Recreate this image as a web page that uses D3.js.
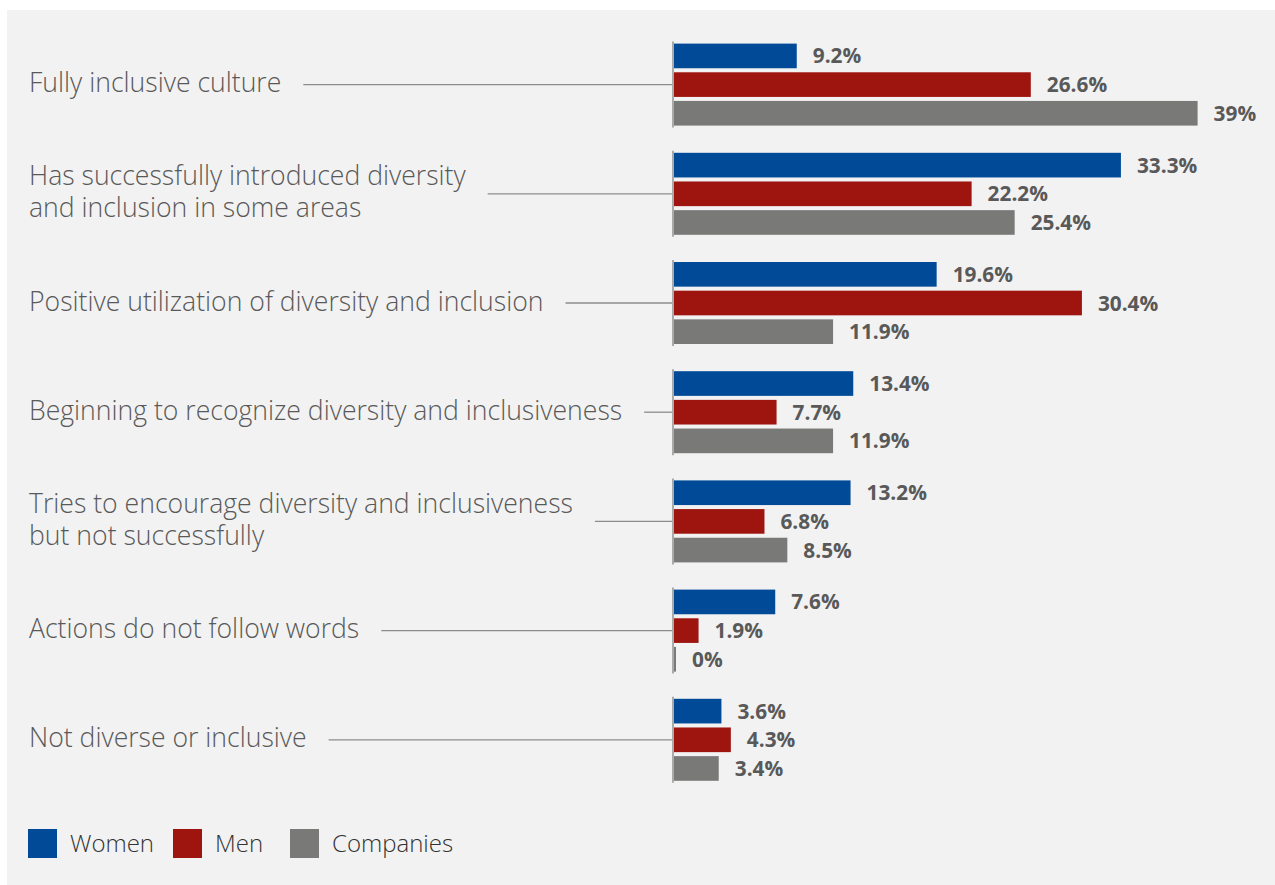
<!DOCTYPE html>
<html><head><meta charset="utf-8">
<script src="https://cdn.jsdelivr.net/npm/d3@7"></script>
<style>
html,body{margin:0;padding:0;background:#fff;}
svg{display:block;}
</style></head>
<body>
<svg id="chart" width="1275" height="885"></svg>
<script>
const categories = [
  ["Fully inclusive culture"],
  ["Has successfully introduced diversity", "and inclusion in some areas"],
  ["Positive utilization of diversity and inclusion"],
  ["Beginning to recognize diversity and inclusiveness"],
  ["Tries to encourage diversity and inclusiveness", "but not successfully"],
  ["Actions do not follow words"],
  ["Not diverse or inclusive"]
];
const seriesNames = ["Women", "Men", "Companies"];
const women = [9.2, 33.3, 19.6, 13.4, 13.2, 7.6, 3.6];
const men = [26.6, 22.2, 30.4, 7.7, 6.8, 1.9, 4.3];
const companies = [39, 25.4, 11.9, 11.9, 8.5, 0, 3.4];
const valueLabels = [
  ["9.2%", "33.3%", "19.6%", "13.4%", "13.2%", "7.6%", "3.6%"],
  ["26.6%", "22.2%", "30.4%", "7.7%", "6.8%", "1.9%", "4.3%"],
  ["39%", "25.4%", "11.9%", "11.9%", "8.5%", "0%", "3.4%"]
];
const colors = ["#004a98", "#9e1510", "#797a78"];

const seriesValues = [women, men, companies];
const svg = d3.select("#chart");
const font = "'Open Sans', 'Noto Sans', sans-serif";

svg.append("rect").attr("x", 7).attr("y", 10).attr("width", 1268).attr("height", 875).attr("fill", "#f2f2f2");

const x0 = 673;
const x = d3.scaleLinear().domain([0, 39]).range([x0, x0 + 524.6]);
const y = d3.scaleBand().domain(d3.range(categories.length)).range([30, 30 + 7 * 109.2]).paddingInner(0).paddingOuter(0);
const yi = d3.scaleBand().domain(seriesNames).range([-41, 41]).paddingInner(0.14).paddingOuter(0);

const groups = svg.selectAll("g.grp").data(categories).join("g")
  .attr("class", "grp")
  .attr("transform", (d, i) => `translate(0,${y(i) + y.bandwidth() / 2})`);

// labels
groups.each(function(lines, i) {
  const g = d3.select(this);
  const n = lines.length;
  const lh = 32;
  const t = g.append("text")
    .attr("font-family", font).attr("font-weight", 300).attr("font-size", 26.6)
    .attr("fill", "#595959");
  lines.forEach((ln, k) => {
    t.append("tspan").attr("x", 29).attr("y", 7.5 + (k - (n - 1) / 2) * lh).text(ln);
  });
  let maxW = 0;
  t.selectAll("tspan").each(function() { maxW = Math.max(maxW, this.getComputedTextLength()); });
  g.append("line").attr("x1", 29 + maxW + 22).attr("x2", x0).attr("y1", 0).attr("y2", 0)
    .attr("stroke", "#8c8c8c").attr("stroke-width", 1.3);
});

// bars
groups.each(function(_, i) {
  const g = d3.select(this);
  seriesNames.forEach((s, k) => {
    const v = seriesValues[k][i];
    const w = Math.max(x(v) - x0, 3);
    g.append("rect").attr("x", x0).attr("y", yi(s)).attr("width", w).attr("height", yi.bandwidth())
      .attr("fill", colors[k]);
    g.append("text").attr("x", x0 + w + 16).attr("y", yi(s) + yi.bandwidth() / 2 + 7.5)
      .attr("font-family", font).attr("font-weight", 700).attr("font-size", 20.8)
      .attr("fill", "#595959").text(valueLabels[k][i]);
  });
  g.append("line").attr("x1", x0).attr("x2", x0).attr("y1", -43).attr("y2", 43)
    .attr("stroke", "#aaaaaa").attr("stroke-width", 2);
});

// legend
const legendX = [28, 173, 290];
const lg = svg.selectAll("g.leg").data(seriesNames).join("g").attr("class", "leg")
  .attr("transform", (d, i) => `translate(${legendX[i]},829)`);
lg.append("rect").attr("width", 29).attr("height", 29).attr("fill", (d, i) => colors[i]);
lg.append("text").attr("x", 42).attr("y", 23).attr("font-family", font).attr("font-weight", 300)
  .attr("font-size", 24).attr("fill", "#333").text(d => d);
</script>
</body></html>
